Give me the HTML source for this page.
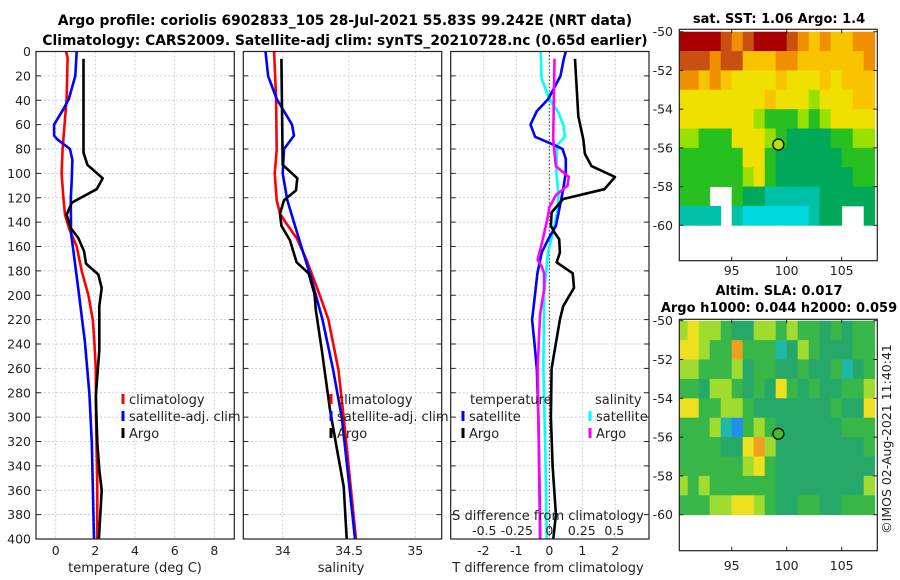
<!DOCTYPE html>
<html><head><meta charset="utf-8"><style>
html,body{margin:0;padding:0;background:#fff;}
svg{display:block;font-family:"DejaVu Sans","Liberation Sans",sans-serif;}
</style></head><body>
<svg id="fig" width="900" height="580" viewBox="0 0 900 580" xmlns="http://www.w3.org/2000/svg">
<text x="345" y="25" text-anchor="middle" font-size="13.8" font-weight="bold">Argo profile: coriolis 6902833_105 28-Jul-2021 55.83S 99.242E (NRT data)</text>
<text x="345" y="45" text-anchor="middle" font-size="13.8" font-weight="bold">Climatology: CARS2009. Satellite-adj clim: synTS_20210728.nc (0.65d earlier)</text>
<text x="779" y="23" text-anchor="middle" font-size="13" font-weight="bold">sat. SST: 1.06 Argo: 1.4</text>
<text x="779" y="295" text-anchor="middle" font-size="13" font-weight="bold">Altim. SLA: 0.017</text>
<text x="779" y="312" text-anchor="middle" font-size="13" font-weight="bold">Argo h1000: 0.044 h2000: 0.059</text>
<text transform="translate(891,439) rotate(-90)" text-anchor="middle" font-size="12.5" fill="#222">©IMOS 02-Aug-2021 11:40:41</text>
<g id="layer"></g>
</svg>
<script>
// ---- profile data (depth in m) ----
const tClimD=[0,5,39,80,100,120,134,146,160,180,200,220,239,261,300,354,400];
const tClimV=[0.52,0.6,0.55,0.35,0.3,0.39,0.47,0.69,1.06,1.31,1.65,1.87,1.95,2.02,2.03,2.1,2.1];
const tSatD=[0,20,39,47,60,69,72,80,89,108,120,149,163,200,239,281,321,400];
const tSatV=[1.06,0.99,0.66,0.4,-0.08,-0.08,0.08,0.72,0.84,0.8,0.76,0.77,0.89,1.18,1.48,1.7,1.82,1.93];
const tArgoD=[6,83,93,104,113,124,134,145,153,164,174,183,194,209,245,283,321,343,360,400];
const tArgoV=[1.4,1.4,1.6,2.37,2.07,0.81,0.55,0.76,1.14,1.43,1.53,2.15,2.32,2.2,2.2,2.02,2.1,2.2,2.32,2.18];
const sClimD=[0,39,81,100,122,133,140,153,171,200,220,261,300,354,400];
const sClimV=[33.935,33.95,33.955,33.94,33.955,33.98,34.02,34.105,34.18,34.28,34.345,34.42,34.46,34.51,34.553];
const sSatD=[0,20,39,60,69,80,100,122,160,184,220,261,300,354,400];
const sSatV=[33.87,33.89,33.955,34.07,34.085,34.01,34.0,34.035,34.14,34.21,34.3,34.38,34.445,34.5,34.545];
const sArgoD=[6,93,104,114,122,133,143,155,173,182,199,212,245,294,327,357,400];
const sArgoV=[33.99,34.0,34.11,34.1,34.01,33.98,33.99,34.055,34.105,34.195,34.24,34.25,34.295,34.357,34.41,34.46,34.483];
const dTsatD=[0,6,20,39,49,60,70,77,80,88,99,113,127,143,154,165,182,206,220,239,260,300,350,400];
const dTsatV=[0.5,0.44,0.34,-0.03,-0.38,-0.57,-0.43,0.17,0.4,0.5,0.5,0.42,0.32,0.2,-0.03,-0.23,-0.36,-0.46,-0.52,-0.45,-0.38,-0.33,-0.3,-0.28];
const dTargoD=[6,53,72,84,94,103,113,121,132,143,149,154,165,173,182,194,209,220,236,260,300,340,380,400];
const dTargoV=[0.78,0.88,1.03,1.08,1.28,1.99,1.67,0.42,0.07,0.05,0.17,0.3,0.32,0.22,0.71,0.75,0.42,0.32,0.22,0.07,0.05,0.1,0.2,0.12];
const dSsatD=[0,22,39,50,61,70,77,99,118,129,143,165,198,260,330,400];
const dSsatV=[-0.066,-0.06,0.0,0.07,0.11,0.12,0.06,0.055,0.07,0.065,0.04,-0.01,-0.04,-0.045,-0.03,-0.02];
const dSargoD=[6,72,83,94,103,110,118,128,135,154,171,176,182,195,215,236,260,330,400];
const dSargoV=[0.04,0.03,0.04,0.05,0.15,0.14,0.05,0.0,-0.01,-0.05,-0.09,-0.06,-0.04,-0.04,-0.07,-0.08,-0.09,-0.08,-0.07];
// ---- axis tick labels ----
const depthTicks=[0,20,40,60,80,100,120,140,160,180,200,220,240,260,280,300,320,340,360,380,400];
const tTicks=[0,2,4,6,8];
const sTicks=[34,34.5,35];
const dTTicks=[-2,-1,0,1,2];
const dSTicks=[-0.5,-0.25,0,0.25,0.5];
const dSTickLabels=["-0.5","-0.25","0","0.25","0.5"];
const latTicks=[-50,-52,-54,-56,-58,-60];
const lonTicks=[95,100,105];
// ---- map data: rows lat -50..-60 (1 deg), cols lon 90..108 (1 deg); null = no data ----
const sstGrid=[
[9,9,9,9,8,7,8,9,9,9,8,7,6,7,6,6,7,7],
[8,8,8,7,8,8,6,6,6,7,7,6,6,6,6,6,6,7],
[7,7,6,7,6,5,5,5,5,6,5,5,5,6,5,6,6,6],
[5,5,5,5,5,5,5,5,6,5,5,5,4,5,5,5,6,6],
[5,5,5,5,5,5,5,4,3,3,3,4,3,4,5,5,5,5],
[4,4,3,3,3,5,5,5,4,3,2,2,2,2,3,3,4,4],
[3,3,3,3,3,3,5,5,3,2,2,2,2,2,2,3,3,3],
[3,3,3,3,3,3,4,5,3,2,2,2,2,2,2,2,3,3],
[3,3,3,null,null,3,2,2,1,1,1,1,1,2,2,2,2,2],
[1,1,1,1,null,1,0,0,0,0,0,0,1,2,2,null,null,2]];
const slaGrid=[
[4,5,4,4,3,2,2,4,4,3,4,3,3,2,3,2,3,3],
[5,5,4,3,3,6,3,3,3,1,2,4,3,2,2,2,3,3],
[4,4,3,3,3,4,2,3,3,2,2,3,2,2,3,1,2,3],
[3,3,2,4,4,3,2,3,2,5,3,2,3,2,2,3,3,4],
[5,5,3,3,4,4,3,2,2,2,2,2,2,2,3,2,2,5],
[3,3,3,4,1,0,3,4,3,2,2,2,2,2,2,3,3,3],
[3,3,3,3,2,2,5,6,4,2,2,2,2,2,2,2,2,3],
[3,3,3,3,3,3,4,5,3,2,2,2,2,2,2,2,2,2],
[4,3,4,3,3,3,3,3,3,2,2,2,2,2,2,2,2,4],
[3,3,3,4,4,5,5,4,3,2,2,3,3,2,2,3,3,3]];
const argoLon=[99.242];
const argoLat=[-55.83];

const NS="http://www.w3.org/2000/svg";
const layer=document.getElementById('layer');
function mk(tag,attrs,parent){const e=document.createElementNS(NS,tag);for(const k in attrs)e.setAttribute(k,attrs[k]);(parent||layer).appendChild(e);return e;}
function txt(s,x,y,attrs,parent){const e=mk('text',Object.assign({x:x,y:y,'font-size':12.5,fill:'#222'},attrs||{}),parent);e.textContent=s;return e;}

const yTop=51.5,yBot=539;
const yD=d=>yTop+(yBot-yTop)*d/400;
const P1={x0:36,x1:234.3,f:v=>55.7+19.83*v};
const P2={x0:243.3,x1:441.7,f:v=>282.7+132.6*(v-34)};
const P3={x0:450.7,x1:649,f:v=>549.3+33*v};
const sxD=v=>549.3+130*v;

function panel(P,name,xt,xf){
  const g=mk('g',{});
  
  
  depthTicks.forEach(d=>{const y=yD(d);
    if(d>0&&d<400)mk('line',{x1:P.x0,x2:P.x1,y1:y,y2:y,stroke:'#b4c0e6','stroke-width':0.8,'stroke-dasharray':'2,2'},g);
    mk('line',{x1:P.x0,x2:P.x0+5,y1:y,y2:y,stroke:'#222','stroke-width':1},g);
    mk('line',{x1:P.x1-5,x2:P.x1,y1:y,y2:y,stroke:'#222','stroke-width':1},g);});
  xt.forEach(v=>{const x=xf(v);mk('line',{x1:x,x2:x,y1:yTop,y2:yBot,stroke:'#c4c4e0','stroke-width':0.8,'stroke-dasharray':'2,2'},g);});
  return g;
}
function series(xs,ds,xf,color,name,g,w){
  const pts=xs.map((v,i)=>xf(v).toFixed(1)+','+yD(ds[i]).toFixed(1)).join(' ');
  const p=mk('polyline',{points:pts,fill:'none',stroke:color,'stroke-width':w||2.6,'stroke-linejoin':'round'},g);
  
  
}
function frame(P,name){const r=mk('rect',{x:P.x0,y:yTop,width:P.x1-P.x0,height:yBot-yTop,fill:'none',stroke:'#222','stroke-width':1.2});
  
  }

// Panel 1
const g1=panel(P1,'temperature-panel',tTicks,P1.f);
series(tClimV,tClimD,P1.f,'#ff0000','temp-climatology-line',g1);
series(tSatV,tSatD,P1.f,'#0000ff','temp-satellite-line',g1);
series(tArgoV,tArgoD,P1.f,'#000000','temp-argo-line',g1);
frame(P1,'temperature-frame');
depthTicks.forEach(d=>{const t=txt(String(d),31,yD(d)+4.5,{'text-anchor':'end','font-size':12.5});
  
  });
tTicks.forEach(v=>{const t=txt(String(v),P1.f(v),555,{'text-anchor':'middle'});
  
  });
txt('temperature (deg C)',135,572,{'text-anchor':'middle','font-size':13});
// Panel 2
const g2=panel(P2,'salinity-panel',sTicks,P2.f);
series(sClimV,sClimD,P2.f,'#ff0000','sal-climatology-line',g2);
series(sSatV,sSatD,P2.f,'#0000ff','sal-satellite-line',g2);
series(sArgoV,sArgoD,P2.f,'#000000','sal-argo-line',g2);
frame(P2,'salinity-frame');
sTicks.forEach(v=>{const t=txt(String(v),P2.f(v),555,{'text-anchor':'middle'});
  
  });
txt('salinity',341,572,{'text-anchor':'middle','font-size':13});
// Panel 3
const g3=panel(P3,'difference-panel',dTTicks,P3.f);
mk('line',{x1:P3.f(0),x2:P3.f(0),y1:yTop,y2:yBot,stroke:'#333','stroke-width':1,'stroke-dasharray':'1.5,2'},g3);
series(dSsatV,dSsatD,sxD,'#00ffff','sdiff-satellite-line',g3);
series(dTsatV,dTsatD,P3.f,'#0000ff','tdiff-satellite-line',g3);
series(dSargoV,dSargoD,sxD,'#ff00ff','sdiff-argo-line',g3);
series(dTargoV,dTargoD,P3.f,'#000000','tdiff-argo-line',g3);
frame(P3,'difference-frame');
dTTicks.forEach(v=>{const t=txt(String(v),P3.f(v),555,{'text-anchor':'middle'});
  
  });
dSTicks.forEach((v,i)=>{const t=txt(dSTickLabels[i],sxD(v),535,{'text-anchor':'middle'});
  
  });
txt('S difference from climatology',548,520,{'text-anchor':'middle','font-size':13});
txt('T difference from climatology',548,572,{'text-anchor':'middle','font-size':13});

// Legends
function legItem(x,y,color,label,name){
  const g=mk('g',{});
  
  
  mk('line',{x1:x,x2:x,y1:y-6,y2:y+4,stroke:color,'stroke-width':3},g);
  txt(label,x+6,y+4,{'font-size':13},g);
}
legItem(123,400,'#ff0000','climatology','legend-climatology');
legItem(123,417,'#0000ff','satellite-adj. clim','legend-satellite-adj');
legItem(123,434,'#000000','Argo','legend-argo');
legItem(331,400,'#ff0000','climatology','legend2-climatology');
legItem(331,417,'#0000ff','satellite-adj. clim','legend2-satellite-adj');
legItem(331,434,'#000000','Argo','legend2-argo');
txt('temperature',470,404,{'font-size':13});
txt('salinity',595,404,{'font-size':13});
legItem(463,417,'#0000ff','satellite','legend3-temp-satellite');
legItem(463,434,'#000000','Argo','legend3-temp-argo');
legItem(590,417,'#00ffff','satellite','legend3-sal-satellite');
legItem(590,434,'#ff00ff','Argo','legend3-sal-argo');

// Maps
const MX0=679.3,MX1=877.3;
const lonX=l=>731.7+11*(l-95);
const sstCols=['#00d8e0','#00c0a8','#00a85a','#28c020','#98e000','#f0e000','#f8c400','#f09000','#c85010','#a80000'];
const slaCols=['#2090f0','#20b8a8','#26a868','#38b648','#a0dc30','#eee020','#f0a020'];
function map(grid,cols,top,bottom,latY,name,fillM,labY){
  const g=mk('g',{});
  
  
  mk('rect',{x:MX0,y:top,width:MX1-MX0,height:bottom-top,fill:'#fff'},g);
  grid.forEach((row,r)=>row.forEach((v,c)=>{
    if(v===null)return;
    const x0=Math.max(MX0,lonX(90+c)),x1=Math.min(MX1,lonX(91+c));
    const y0=Math.max(top,latY(-50-r)),y1=latY(-51-r);
    const cell=mk('rect',{x:x0,y:y0,width:x1-x0+0.4,height:y1-y0+0.4,fill:cols[v]},g);
    
    
  }));
  argoLon.forEach((lo,i)=>{const m=mk('circle',{cx:lonX(lo),cy:latY(argoLat[i]),r:5.5,fill:fillM,stroke:'#000','stroke-width':1.3},g);
    
    });
  mk('rect',{x:MX0,y:top,width:MX1-MX0,height:bottom-top,fill:'none',stroke:'#222','stroke-width':1.2},g);
  latTicks.forEach(l=>{const y=latY(l);
    mk('line',{x1:MX0,x2:MX0+4,y1:y,y2:y,stroke:'#222'},g);
    mk('line',{x1:MX1-4,x2:MX1,y1:y,y2:y,stroke:'#222'},g);
    const t=txt(String(l),673,y+4.5,{'text-anchor':'end'},g);
    
    });
  lonTicks.forEach(l=>{const x=lonX(l);
    mk('line',{x1:x,x2:x,y1:bottom-4,y2:bottom,stroke:'#222'},g);
    mk('line',{x1:x,x2:x,y1:top,y2:top+4,stroke:'#222'},g);
    const t=txt(String(l),x,labY,{'text-anchor':'middle'},g);
    
    });
}
map(sstGrid,sstCols,29.3,260.7,l=>31.7+19.36*(-50-l),'sst-map','#b8e000',275);
map(slaGrid,slaCols,319.3,550.7,l=>320.7+19.4*(-50-l),'sla-map','#40c030',570);
</script>
</body></html>
